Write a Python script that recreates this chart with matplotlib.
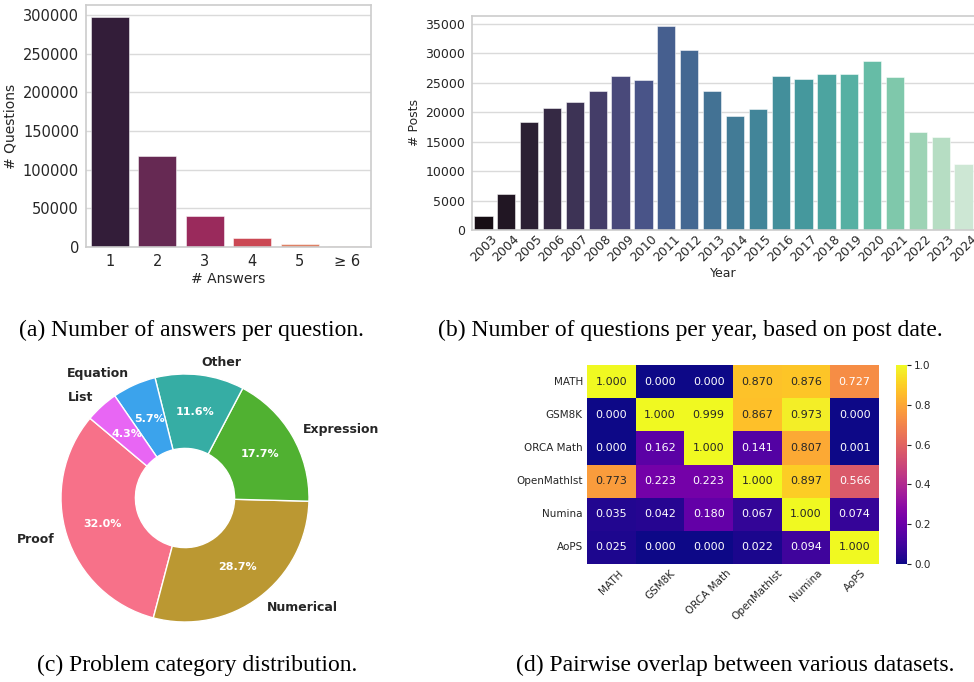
import matplotlib
matplotlib.use("Agg")
import matplotlib.pyplot as plt
import numpy as np
import seaborn as sns

# ---------------- data ----------------
answer_labels = ["1", "2", "3", "4", "5", "\u2265 6"]
answer_counts = [297400, 117600, 40600, 12100, 3500, 1700]

years = [str(y) for y in range(2003, 2025)]
posts = [2300, 6150, 18400, 20700, 21700, 23500, 26200, 25500, 34550, 30600,
         23600, 19300, 20600, 26050, 25550, 26450, 26450, 28600, 25950,
         16700, 15700, 11250]

categories = ["Proof", "Numerical", "Expression", "Other", "Equation", "List"]
shares = [32.0, 28.7, 17.7, 11.6, 5.7, 4.3]

datasets = ["MATH", "GSM8K", "ORCA Math", "OpenMathIst", "Numina", "AoPS"]
overlap = [
    [1.000, 0.000, 0.000, 0.870, 0.876, 0.727],
    [0.000, 1.000, 0.999, 0.867, 0.973, 0.000],
    [0.000, 0.162, 1.000, 0.141, 0.807, 0.001],
    [0.773, 0.223, 0.223, 1.000, 0.897, 0.566],
    [0.035, 0.042, 0.180, 0.067, 1.000, 0.074],
    [0.025, 0.000, 0.000, 0.022, 0.094, 1.000],
]

captions = ["(a) Number of answers per question.",
            "(b) Number of questions per year, based on post date.",
            "(c) Problem category distribution.",
            "(d) Pairwise overlap between various datasets."]

# ---------------- figure ----------------
W, H = 974, 682
fig = plt.figure(figsize=(W / 100, H / 100), dpi=100)
TXT = "#262626"
GRID = "#dadada"
SPINE = "#cccccc"


def px_axes(x0, y0, x1, y1):
    return fig.add_axes([x0 / W, 1 - y1 / H, (x1 - x0) / W, (y1 - y0) / H])


def style_grid(ax, fs):
    for s in ax.spines.values():
        s.set_color(SPINE)
        s.set_linewidth(1.2)
    ax.yaxis.grid(True, color=GRID, linewidth=1.0)
    ax.xaxis.grid(False)
    ax.set_axisbelow(True)
    ax.tick_params(length=0, labelsize=fs, colors=TXT, pad=5)


# (a) answers per question
ax1 = px_axes(86, 5, 371, 247)
pal_a = [sns.desaturate(c, 0.75) for c in sns.color_palette("rocket", len(answer_counts))]
xa = np.arange(len(answer_counts))
ax1.bar(xa, answer_counts, width=0.8, color=pal_a, edgecolor=(1, 1, 1, 0.6), linewidth=0.6)
ax1.set_xlim(-0.5, len(answer_counts) - 0.5)
ax1.set_ylim(0, 313000)
ax1.set_yticks(np.arange(0, 300001, 50000))
ax1.set_xticks(xa)
ax1.set_xticklabels(answer_labels)
style_grid(ax1, 10.5)
ax1.set_xlabel("# Answers", fontsize=10, color=TXT, labelpad=2)
ax1.set_ylabel("# Questions", fontsize=10, color=TXT, labelpad=4)

# (b) posts per year
ax2 = px_axes(472, 16, 975, 230)
pal_b = [sns.desaturate(c, 0.75) for c in sns.color_palette("mako", len(posts))]
xb = np.arange(len(posts))
ax2.bar(xb, posts, width=0.8, color=pal_b, edgecolor=(1, 1, 1, 0.6), linewidth=0.6)
ax2.set_xlim(-0.5, len(posts) - 0.5)
ax2.set_ylim(0, 36300)
ax2.set_yticks(np.arange(0, 35001, 5000))
ax2.set_xticks(xb)
ax2.set_xticklabels(years, rotation=45)
style_grid(ax2, 9)
ax2.tick_params(axis="x", pad=2)
ax2.set_xlabel("Year", fontsize=9, color=TXT, labelpad=2)
ax2.set_ylabel("# Posts", fontsize=9, color=TXT, labelpad=3)

# (c) donut
R = 124
ax3 = px_axes(185 - 150, 498 - 150, 185 + 150, 498 + 150)
pal_c = sns.color_palette("husl", len(shares))
wedges, texts, autotexts = ax3.pie(
    shares, labels=categories, colors=pal_c, startangle=140, autopct="%1.1f%%",
    pctdistance=0.7, labeldistance=1.1,
    wedgeprops=dict(width=0.6, edgecolor="white", linewidth=1.0),
    textprops=dict(fontsize=9, color=TXT, fontweight="bold"))
for t in autotexts:
    t.set_color("white")
    t.set_fontsize(8)
    t.set_fontweight("bold")
L = 150 / R
ax3.set_xlim(-L, L)
ax3.set_ylim(-L, L)
ax3.set_aspect("equal")
ax3.axis("off")

# (d) heatmap
ax4 = px_axes(587, 365, 879, 564)
cax = px_axes(896, 365, 907, 564)
sns.heatmap(np.array(overlap), ax=ax4, cbar_ax=cax, cmap="plasma", vmin=0, vmax=1,
            annot=True, fmt=".3f", annot_kws=dict(fontsize=8),
            xticklabels=datasets, yticklabels=datasets)
ax4.tick_params(length=0, labelsize=7.5, colors=TXT, pad=3)
ax4.set_xticklabels(datasets, rotation=45, ha="center", fontsize=7.5, color=TXT)
ax4.set_yticklabels(datasets, rotation=0, fontsize=7.5, color=TXT)
cax.tick_params(labelsize=7.5, colors=TXT, length=3, width=0.8, pad=2)
cax.set_yticks([0.0, 0.2, 0.4, 0.6, 0.8, 1.0])

# captions
cap_kw = dict(fontsize=17, family="Liberation Serif", color="black", ha="center", va="center")
fig.text(191 / W, 1 - 330 / H, captions[0], **cap_kw)
fig.text(690 / W, 1 - 330 / H, captions[1], **cap_kw)
fig.text(197 / W, 1 - 665 / H, captions[2], **cap_kw)
fig.text(735 / W, 1 - 665 / H, captions[3], **cap_kw)

fig.savefig("out.png", dpi=100)
